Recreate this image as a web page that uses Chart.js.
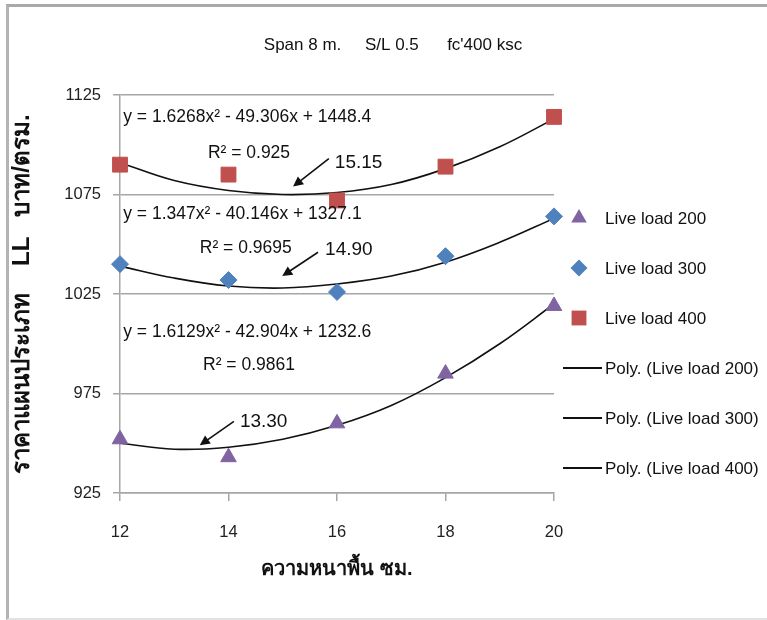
<!DOCTYPE html>
<html><head><meta charset="utf-8">
<script src="https://cdn.jsdelivr.net/npm/chart.js@4.4.1/dist/chart.umd.min.js"></script>
<style>
html,body{margin:0;padding:0;background:#fff;}
#wrap{position:relative;width:767px;height:620px;overflow:hidden;}
#frame{position:absolute;left:6px;top:4px;width:900px;height:611px;border-top:3px solid #a9a9a9;border-left:3px solid #b4b4b4;border-bottom:2px solid #e2e2e2;}
canvas{position:absolute;left:0;top:0;}
</style></head><body>
<div id="wrap"><div id="frame"></div><canvas id="c" width="767" height="620"></canvas></div>
<script>
// ---- data ----
const thickness = [12, 14, 16, 18, 20];
const load200 = [952, 943, 960, 985, 1019];
const load300 = [1040, 1032, 1026, 1044, 1064];
const load400 = [1090, 1085, 1072, 1089, 1114];
const trendX = [12, 13, 14, 15, 16, 17, 18, 19, 20];
const trend200 = [950, 947, 948, 952, 959, 969, 983, 1000, 1020];
const trend300 = [1039, 1033, 1029, 1028, 1030, 1034, 1041, 1051, 1063];
const trend400 = [1091, 1082, 1077, 1075, 1076, 1080, 1088, 1099, 1113];
const yTicks = [925, 975, 1025, 1075, 1125];
const xTicks = [12, 14, 16, 18, 20];
const seriesNames = ['Live load 200', 'Live load 300', 'Live load 400'];
const trendNames = ['Poly. (Live load 200)', 'Poly. (Live load 300)', 'Poly. (Live load 400)'];
const equations = ['y = 1.6129x² - 42.904x + 1232.6', 'y = 1.347x² - 40.146x + 1327.1', 'y = 1.6268x² - 49.306x + 1448.4'];
const rSquared = ['R² = 0.9861', 'R² = 0.9695', 'R² = 0.925'];
const optimum = ['13.30', '14.90', '15.15'];
const titleText = "Span 8 m.     S/L 0.5      fc'400 ksc";
const yTitle = 'ราคาแผนประเภท    LL   บาท/ตรม.';
const xTitle = 'ความหนาพื้น ซม.';

// ---- styles ----
const FONT = "'Liberation Sans', Arial, sans-serif";
const markerStyles = [
  {pointStyle: 'triangle', color: '#8064A2', radius: 9},
  {pointStyle: 'rectRot', color: '#4F81BD', radius: 8.5},
  {pointStyle: 'rect', color: '#C0504D', radius: 10.5}
];
// annotation placement (in data coordinates)
const notePlaces = [
  {eq: [12.06, 1006], r2: [13.53, 989], lab: [14.21, 961], tail: [14.10, 961], tip: [13.47, 949]},
  {eq: [12.06, 1065], r2: [13.47, 1048], lab: [15.78, 1047], tail: [15.65, 1046], tip: [14.99, 1034]},
  {eq: [12.06, 1114], r2: [13.62, 1096], lab: [15.96, 1091], tail: [15.85, 1093], tip: [15.19, 1079]}
];

const pts = (xs, ys) => xs.map((x, i) => ({x: x, y: ys[i]}));
const seriesData = [load200, load300, load400];
const trendData = [trend200, trend300, trend400];

const datasets = [];
seriesData.forEach((d, i) => {
  datasets.push({
    label: seriesNames[i], data: pts(thickness, d), showLine: false, clip: false,
    pointStyle: markerStyles[i].pointStyle, pointRadius: markerStyles[i].radius,
    pointHoverRadius: markerStyles[i].radius,
    backgroundColor: markerStyles[i].color, borderColor: markerStyles[i].color, borderWidth: 1
  });
});
trendData.forEach((d, i) => {
  datasets.push({
    label: trendNames[i], data: pts(trendX, d), showLine: true, tension: 0.4,
    pointRadius: 0, borderColor: '#111', borderWidth: 1.6, backgroundColor: '#111', isTrend: true
  });
});

function drawMarker(ctx, style, r, x, y) {
  ctx.beginPath();
  if (style === 'triangle') {
    ctx.moveTo(x, y - r);
    ctx.lineTo(x + r * Math.sqrt(3) / 2, y + r / 2);
    ctx.lineTo(x - r * Math.sqrt(3) / 2, y + r / 2);
  } else if (style === 'rectRot') {
    ctx.moveTo(x, y - r); ctx.lineTo(x + r, y); ctx.lineTo(x, y + r); ctx.lineTo(x - r, y);
  } else {
    const s = r * Math.SQRT1_2;
    ctx.rect(x - s, y - s, 2 * s, 2 * s);
  }
  ctx.closePath();
  ctx.fill();
}

const overlay = {
  id: 'overlay',
  afterDraw(chart) {
    const ctx = chart.ctx;
    const xs = chart.scales.x, ys = chart.scales.y;
    ctx.save();
    // title
    ctx.fillStyle = '#111';
    ctx.font = '17px ' + FONT;
    ctx.textAlign = 'center'; ctx.textBaseline = 'middle';
    ctx.fillText(titleText, 393, 45);
    // legend
    ctx.textAlign = 'left';
    ctx.font = '17px ' + FONT;
    chart.data.datasets.forEach((ds, i) => {
      const y = 218 + 50 * i;
      if (ds.isTrend) {
        ctx.strokeStyle = '#111'; ctx.lineWidth = 2;
        ctx.beginPath(); ctx.moveTo(563, y); ctx.lineTo(602, y); ctx.stroke();
      } else {
        ctx.fillStyle = ds.backgroundColor;
        drawMarker(ctx, ds.pointStyle, ds.pointRadius, 579, y);
      }
      ctx.fillStyle = '#111';
      ctx.fillText(ds.label, 605, y + 1);
    });
    // trendline annotations
    notePlaces.forEach((p, i) => {
      const px = v => xs.getPixelForValue(v), py = v => ys.getPixelForValue(v);
      ctx.fillStyle = '#111';
      ctx.font = '17.5px ' + FONT;
      ctx.fillText(equations[i], px(p.eq[0]), py(p.eq[1]));
      ctx.fillText(rSquared[i], px(p.r2[0]), py(p.r2[1]));
      ctx.font = '19px ' + FONT;
      ctx.fillText(optimum[i], px(p.lab[0]), py(p.lab[1]));
      const x1 = px(p.tail[0]), y1 = py(p.tail[1]), x2 = px(p.tip[0]), y2 = py(p.tip[1]);
      const a = Math.atan2(y2 - y1, x2 - x1);
      ctx.strokeStyle = '#111'; ctx.lineWidth = 1.6;
      ctx.beginPath(); ctx.moveTo(x1, y1); ctx.lineTo(x2 - 6 * Math.cos(a), y2 - 6 * Math.sin(a)); ctx.stroke();
      ctx.beginPath();
      ctx.moveTo(x2, y2);
      ctx.lineTo(x2 - 10 * Math.cos(a) + 5 * Math.sin(a), y2 - 10 * Math.sin(a) - 5 * Math.cos(a));
      ctx.lineTo(x2 - 10 * Math.cos(a) - 5 * Math.sin(a), y2 - 10 * Math.sin(a) + 5 * Math.cos(a));
      ctx.closePath(); ctx.fill();
    });
    ctx.restore();
  }
};

Chart.defaults.font.family = FONT;
Chart.defaults.color = '#222';

new Chart(document.getElementById('c'), {
  type: 'scatter',
  data: {datasets: datasets},
  options: {
    responsive: false, animation: false, events: [],
    layout: {padding: {left: 8, top: 95, right: 213, bottom: 39}},
    plugins: {legend: {display: false}, title: {display: false}, tooltip: {enabled: false}},
    scales: {
      x: {
        type: 'linear', min: 12, max: 20,
        afterBuildTicks: s => { s.ticks = xTicks.map(v => ({value: v})); },
        afterFit: s => { s.height = 88; },
        grid: {drawOnChartArea: false, drawTicks: true, tickLength: 8, color: '#a6a6a6', lineWidth: 1.5},
        border: {display: true, color: '#a6a6a6', width: 1.5},
        ticks: {font: {size: 16.5}, padding: 22, color: '#222', callback: v => String(v)},
        title: {display: true, text: xTitle, font: {size: 20, weight: 'bold'}, color: '#111', padding: {top: 0, bottom: 0}}
      },
      y: {
        type: 'linear', min: 925, max: 1125,
        afterBuildTicks: s => { s.ticks = yTicks.map(v => ({value: v})); },
        afterFit: s => { s.width = 112; },
        grid: {drawTicks: true, tickLength: 7, color: '#a6a6a6', lineWidth: 1.5},
        border: {display: true, color: '#a6a6a6', width: 1.5},
        ticks: {font: {size: 16.5}, padding: 12, color: '#222', callback: v => String(v)},
        title: {display: true, text: yTitle, font: {size: 24, weight: 'bold'}, color: '#111', padding: {top: 0, bottom: 0}}
      }
    }
  },
  plugins: [overlay]
});
</script>
</body></html>
